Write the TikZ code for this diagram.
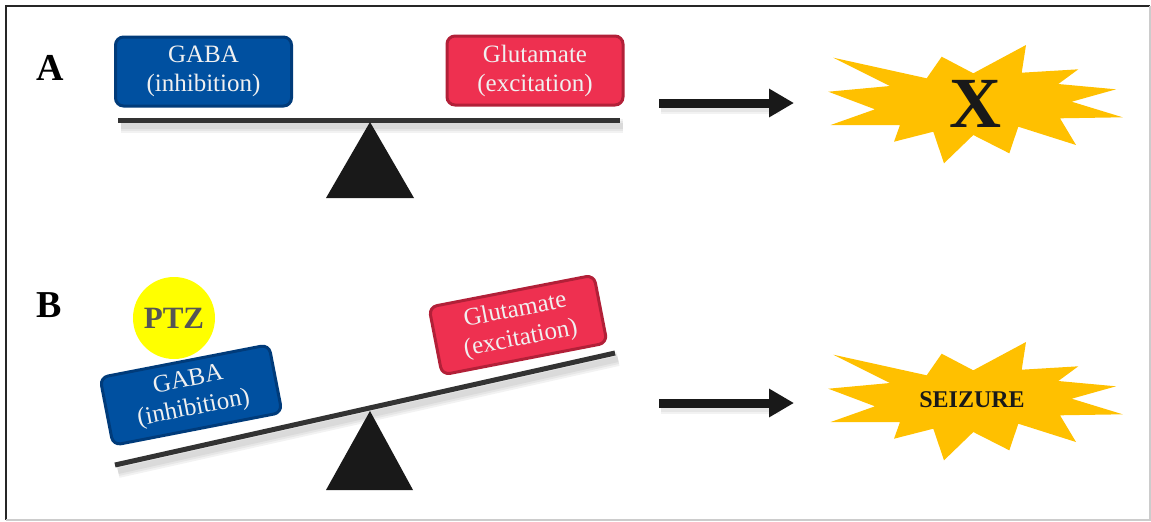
\documentclass[tikz,border=0pt]{standalone}
\usepackage{fontspec}
\setmainfont{Liberation Serif}
\usetikzlibrary{positioning,arrows.meta}
\definecolor{gabablue}{HTML}{0050A0}
\definecolor{gabaedge}{HTML}{003B7A}
\definecolor{glured}{HTML}{EE3050}
\definecolor{gluedge}{HTML}{B22038}
\definecolor{burstyellow}{HTML}{FFC000}
\definecolor{beamgray}{HTML}{333333}
\definecolor{ptzyellow}{HTML}{FFFF00}
\definecolor{ptzgray}{HTML}{555555}

\begin{document}
\begin{tikzpicture}[
x=0.5pt, y=-0.5pt,
box/.style={draw, line width=1.5pt, rounded corners=4pt, align=center, text=white!94!black, minimum width=88pt, minimum height=34.5pt, inner sep=0pt, font=\fontsize{12.5}{14.5}\selectfont},
gaba/.style={box, fill=gabablue, draw=gabaedge},
glu/.style={box, fill=glured, draw=gluedge},
beam/.style={line width=2.5pt, draw=beamgray},
softshadow/.style={line width=#1, draw=black, opacity=0.05},
fulcrum/.style={fill=black!90},
arr/.style={-{Triangle[length=12.5pt,width=13.5pt]}, line width=4.5pt, black!90},
panel/.style={font=\fontsize{19}{19}\selectfont\bfseries},
burstfill/.style={fill=burstyellow},
burst/.pic={\fill[burstfill] (-141.7,-47.3) -- (-48.3,-26.7) -- (-33.3,-48.3) -- (-1.7,-31.7) -- (51,-60) -- (46.7,-32.3) -- (103.3,-35.7) -- (83.3,-21) -- (141,-15.7) -- (96.7,-3.3) -- (147.7,12.3) -- (85,13.3) -- (101,40) -- (43.3,21.7) -- (34.3,48.3) -- (-1.7,30) -- (-31,58.3) -- (-41.7,26.7) -- (-81,36.7) -- (-75,20) -- (-144.3,20) -- (-100,4.3) -- (-146.7,-13.3) -- (-85,-19) -- cycle;}
]
\useasboundingbox (0,0) rectangle (1151,521);
\draw[black!85, line width=1.2pt] (6,520) -- (6,6) -- (1150,6);
\draw[black!20, line width=1pt] (1150,6) -- (1150,520) -- (6,520);

\node[panel] (labA) at (50,68) {A};
\node[panel] (labB) at (49,305) {B};

\coordinate (bA-l) at (118,120);
\coordinate (bA-r) at (620,120);
\foreach \w in {3pt,5pt,7pt}
  \draw[softshadow=\w] ([shift={(3,6)}]bA-l) -- ([shift={(3,6)}]bA-r);
\draw[beam] (bA-l) -- (bA-r);
\fill[fulcrum] (370,122) -- (326,198) -- (414,198) -- cycle;
\node[gaba] (gabaA) at (203.5,71.5) {GABA\\(inhibition)};
\node[glu] (gluA) at (535,70.5) {Glutamate\\(excitation)};

\coordinate (arrA-s) at (659,103);
\coordinate (arrA-e) at (794,103);
\foreach \w in {4pt,6pt}
  \draw[softshadow=\w] ([shift={(2,5)}]arrA-s) -- ([shift={(-14,5)}]arrA-e);
\draw[arr] (arrA-s) -- (arrA-e);
\pic at (975,105) {burst};
\node[font=\fontsize{36}{36}\selectfont\bfseries, text=black!90] (burstA) at (975,104) {X};

\coordinate (bB-l) at (115,465);
\coordinate (bB-r) at (615,353);
\foreach \w in {3pt,5pt,7pt}
  \draw[softshadow=\w] ([shift={(3,6)}]bB-l) -- ([shift={(3,6)}]bB-r);
\draw[beam] (bB-l) -- (bB-r);
\fill[fulcrum] (370,411) -- (326,490) -- (413,490) -- cycle;
\node[circle, fill=ptzyellow, minimum size=41pt, inner sep=0pt, text=ptzgray, font=\fontsize{15.5}{15.5}\selectfont\bfseries] (ptz) at (174,318) {PTZ};
\node[gaba, rotate=11, minimum width=86pt] (gabaB) at (191,395) {GABA\\(inhibition)};
\node[glu, rotate=11, minimum width=84pt] (gluB) at (518,325) {Glutamate\\(excitation)};

\coordinate (arrB-s) at (659,403);
\coordinate (arrB-e) at (794,403);
\foreach \w in {4pt,6pt}
  \draw[softshadow=\w] ([shift={(2,5)}]arrB-s) -- ([shift={(-14,5)}]arrB-e);
\draw[arr] (arrB-s) -- (arrB-e);
\pic at (975,402) {burst};
\node[font=\fontsize{12}{12}\selectfont\bfseries, text=black!90] (burstB) at (972,400) {SEIZURE};
\end{tikzpicture}
\end{document}
